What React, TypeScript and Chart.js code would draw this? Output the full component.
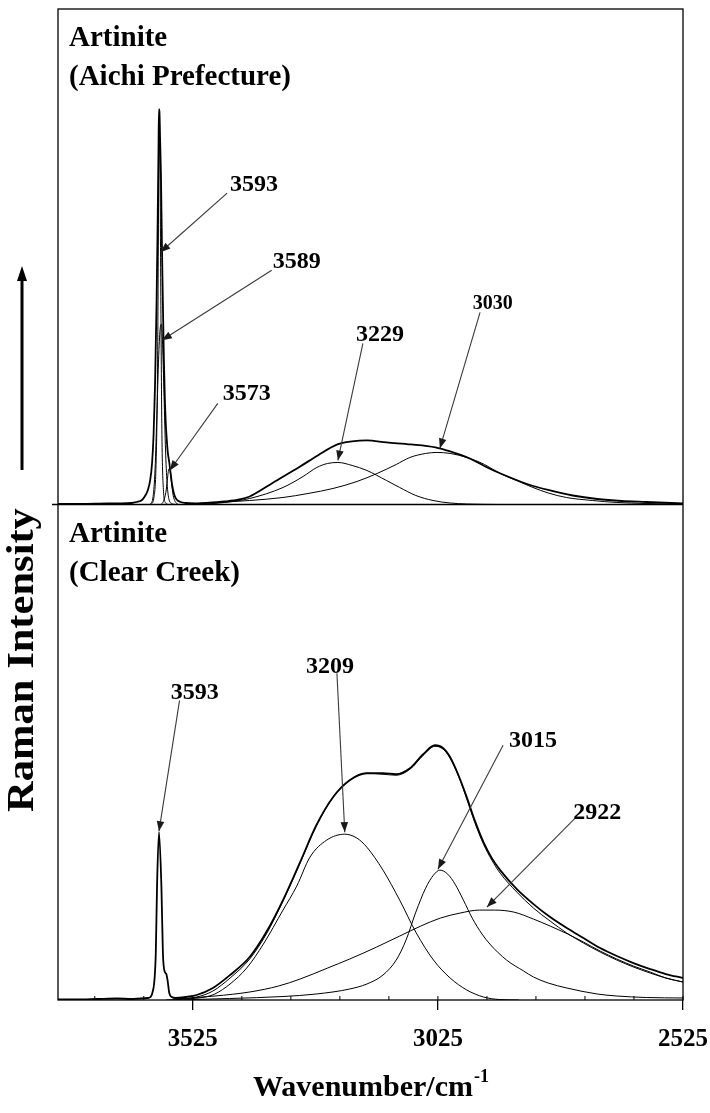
import React, { useEffect, useRef } from 'react';
import { Chart, registerables } from 'chart.js';

Chart.register(...registerables);

// ---------- axis ----------
const xMin = 2525;
const xMax = 3800;
const xTickLabels = [3525, 3025, 2525];
const xMinorStep = 100;

const panelTopMax = 495;
const panelBottomMax = 496;

// ---------- Aichi Prefecture (top panel) : [wavenumber, intensity] ----------
const aichiObserved: [number, number][] = [
  [3800, 0.5], [3750, 0.5], [3700, 1], [3670, 1], [3650, 1.5], [3640, 2.5], [3630, 4], [3623, 8],
  [3617, 14], [3612, 24], [3608, 42], [3605, 70], [3602, 120], [3599, 200], [3597, 270], [3595, 355],
  [3594, 395], [3593, 392], [3592, 370], [3590, 330], [3588, 260], [3586, 200], [3584, 145], [3582, 105],
  [3580, 80], [3578, 64], [3576, 52], [3573, 42], [3570, 30], [3567, 19], [3563, 10], [3558, 5],
  [3550, 2.5], [3540, 1.5], [3520, 1], [3500, 1.5], [3460, 3], [3430, 5], [3409, 8], [3367, 20],
  [3330, 31], [3306, 38], [3270, 49], [3230, 60], [3200, 63], [3170, 64], [3130, 62], [3080, 60],
  [3030, 57], [3000, 53], [2960, 46], [2920, 36], [2880, 27.5], [2840, 20], [2800, 14.5], [2750, 9],
  [2700, 5.5], [2650, 3.5], [2600, 2.5], [2525, 1],
];
const aichiBand3593: [number, number][] = [
  [3610, 0], [3604, 8], [3600, 40], [3597, 130], [3595, 290], [3594, 370], [3593, 385], [3592, 340],
  [3590, 190], [3588, 70], [3585, 15], [3581, 2], [3575, 0],
];
const aichiBand3589: [number, number][] = [
  [3612, 0], [3606, 8], [3602, 35], [3598, 95], [3594, 155], [3591, 178], [3589, 180], [3587, 165],
  [3584, 115], [3581, 60], [3578, 25], [3574, 6], [3568, 1], [3560, 0],
];
const aichiBand3573: [number, number][] = [
  [3590, 0], [3585, 3], [3580, 12], [3577, 24], [3575, 33], [3573, 36], [3571, 33], [3568, 20],
  [3565, 9], [3561, 3], [3555, 0],
];
const aichiBand3229: [number, number][] = [
  [3540, 0], [3500, 0.5], [3460, 2], [3409, 6], [3341, 17], [3300, 28], [3272, 37], [3250, 41],
  [3229, 42], [3200, 39], [3170, 34], [3130, 24], [3103, 17], [3070, 9], [3035, 4], [3000, 1.5],
  [2966, 0.5], [2900, 0],
];
const aichiBand3030: [number, number][] = [
  [3540, 0.5], [3500, 1.5], [3460, 2.5], [3409, 4], [3341, 7], [3290, 11], [3239, 16], [3190, 23],
  [3149, 31], [3110, 40], [3082, 47], [3050, 51], [3027, 52], [3000, 51], [2966, 47], [2930, 40],
  [2898, 31], [2860, 23], [2831, 17], [2800, 11.5], [2763, 7], [2710, 4], [2660, 2], [2600, 1],
  [2558, 0.5], [2525, 0.3],
];

// ---------- Clear Creek (bottom panel) ----------
const clearCreekObserved: [number, number][] = [
  [3800, 0.5], [3760, 0.5], [3720, 1], [3680, 1.5], [3650, 1], [3630, 1.5], [3616, 2], [3606, 10],
  [3600.5, 47], [3598, 113], [3594, 168], [3589, 113], [3586, 47], [3582, 28], [3579, 26], [3576, 18],
  [3573, 7], [3568, 3], [3560, 2], [3540, 3], [3517, 5], [3484, 12], [3449, 25], [3409, 43],
  [3375, 68], [3341, 100], [3307, 137], [3273, 175], [3239, 203], [3205, 220], [3170, 227], [3137, 227],
  [3110, 226], [3082, 232], [3055, 246], [3031, 255], [3014, 252], [3000, 243], [2983, 225], [2966, 203],
  [2950, 180], [2932, 158], [2915, 142], [2898, 130], [2864, 111], [2830, 96], [2796, 83], [2762, 72],
  [2728, 62], [2694, 52], [2660, 44], [2626, 37], [2592, 31], [2560, 26], [2525, 22],
];
const clearCreekFit: [number, number][] = [
  [3560, 1], [3517, 3], [3484, 9], [3449, 22], [3409, 41], [3375, 66], [3341, 99], [3307, 136],
  [3273, 174], [3239, 203], [3205, 220], [3170, 227], [3137, 226], [3110, 225], [3082, 231], [3055, 245],
  [3031, 254], [3014, 251], [3000, 242], [2983, 224], [2966, 201], [2950, 178], [2932, 156], [2915, 140],
  [2898, 127], [2864, 108], [2830, 92], [2796, 79], [2762, 67], [2728, 57], [2694, 48], [2660, 40],
  [2626, 33], [2592, 27], [2560, 22], [2525, 18],
];
const clearCreekBand3209: [number, number][] = [
  [3580, 0], [3540, 1], [3500, 3], [3480, 6], [3449, 16], [3415, 32], [3381, 56], [3341, 90],
  [3313, 114], [3286, 143], [3252, 160], [3215, 166], [3190, 162], [3170, 153], [3137, 130], [3103, 100],
  [3069, 67], [3034, 40], [3000, 22], [2966, 10], [2932, 3], [2900, 0.5], [2860, 0],
];
const clearCreekBand3015: [number, number][] = [
  [3560, 0], [3450, 1.5], [3341, 3.5], [3273, 6], [3205, 11], [3170, 16], [3137, 25], [3110, 40],
  [3090, 60], [3070, 88], [3050, 112], [3034, 125], [3021, 130], [3005, 126], [2990, 116], [2973, 100],
  [2955, 82], [2935, 66], [2919, 56], [2885, 40], [2850, 29], [2830, 23], [2800, 17], [2762, 12],
  [2700, 6], [2660, 4], [2600, 2.5], [2525, 2],
];
const clearCreekBand2922: [number, number][] = [
  [3560, 1], [3480, 4], [3409, 8], [3350, 14], [3306, 21], [3250, 32], [3205, 41], [3150, 53],
  [3103, 64], [3060, 74], [3020, 82], [2980, 87], [2940, 90], [2910, 90], [2870, 88], [2830, 81],
  [2796, 74], [2760, 66], [2728, 58], [2694, 49], [2660, 41], [2626, 34], [2592, 28], [2560, 22],
  [2525, 18],
];

// ---------- annotations (data coordinates: [wavenumber, intensity]) ----------
type Note = { text: string; tip: [number, number]; tail: [number, number]; at: [number, number]; small?: boolean };
const aichiNotes: Note[] = [
  { text: '3593', tip: [3591, 252], tail: [3455, 311], at: [3400, 319] },
  { text: '3589', tip: [3588, 164], tail: [3364, 234], at: [3313, 242] },
  { text: '3573', tip: [3572, 34], tail: [3474, 101], at: [3415, 111] },
  { text: '3229', tip: [3229, 44], tail: [3178, 161], at: [3143, 170] },
  { text: '3030', tip: [3021, 56], tail: [2939, 192], at: [2913, 200], small: true },
];
const clearCreekNotes: Note[] = [
  { text: '3593', tip: [3594, 169], tail: [3552, 300], at: [3521, 308] },
  { text: '3209', tip: [3215, 168], tail: [3231, 327], at: [3245, 334] },
  { text: '3015', tip: [3025, 131], tail: [2892, 255], at: [2831, 259] },
  { text: '2922', tip: [2925, 93], tail: [2745, 182], at: [2700, 187] },
];

const sampleTitles = [
  ['Artinite', '(Aichi Prefecture)'],
  ['Artinite', '(Clear Creek)'],
];
const yTitle = 'Raman Intensity';
const xTitle = 'Wavenumber/cm';
const xTitleSup = '-1';

const SERIF = '"Liberation Serif", "Times New Roman", Times, serif';

function toPoints(arr: [number, number][]) {
  return arr
    .slice()
    .sort((a, b) => b[0] - a[0])
    .map(([x, y]) => ({ x, y }));
}

function ds(arr: [number, number][], axis: string, width: number) {
  return {
    data: toPoints(arr),
    yAxisID: axis,
    borderColor: '#000',
    borderWidth: width,
    pointRadius: 0,
    fill: false,
    cubicInterpolationMode: 'monotone' as const,
  };
}

const overlayPlugin = {
  id: 'overlay',
  afterDatasetsDraw(chart: any) {
    const { ctx, chartArea: ca, scales } = chart;
    const xs = scales.x;
    const yt = scales.yTop;
    const yb = scales.yBot;
    ctx.save();

    // frame
    ctx.strokeStyle = '#000';
    ctx.lineWidth = 1.3;
    ctx.strokeRect(ca.left, ca.top, ca.right - ca.left, ca.bottom - ca.top);
    const divY = yt.getPixelForValue(0);
    ctx.beginPath();
    ctx.moveTo(ca.left - 6, divY);
    ctx.lineTo(ca.right, divY);
    ctx.stroke();

    // minor inside ticks on bottom axis
    ctx.lineWidth = 1;
    for (let v = xMin; v <= xMax; v += xMinorStep) {
      const px = xs.getPixelForValue(v);
      ctx.beginPath();
      ctx.moveTo(px, ca.bottom);
      ctx.lineTo(px, ca.bottom - 4);
      ctx.stroke();
    }

    // sample titles
    ctx.fillStyle = '#000';
    ctx.textAlign = 'left';
    ctx.textBaseline = 'alphabetic';
    ctx.font = `bold 29px ${SERIF}`;
    const titleTops = [ca.top, divY];
    sampleTitles.forEach((lines, i) => {
      ctx.fillText(lines[0], ca.left + 11, titleTops[i] + 37);
      ctx.fillText(lines[1], ca.left + 11, titleTops[i] + 76);
    });

    // annotations
    const drawNotes = (notes: Note[], ys: any) => {
      notes.forEach((n) => {
        const tx = xs.getPixelForValue(n.tip[0]);
        const ty = ys.getPixelForValue(n.tip[1]);
        const sx = xs.getPixelForValue(n.tail[0]);
        const sy = ys.getPixelForValue(n.tail[1]);
        ctx.strokeStyle = '#3a3a3a';
        ctx.fillStyle = '#1a1a1a';
        ctx.lineWidth = 1.1;
        ctx.beginPath();
        ctx.moveTo(sx, sy);
        ctx.lineTo(tx, ty);
        ctx.stroke();
        const ang = Math.atan2(ty - sy, tx - sx);
        const L = 10;
        const W = 3.8;
        ctx.beginPath();
        ctx.moveTo(tx, ty);
        ctx.lineTo(tx - L * Math.cos(ang) + W * Math.sin(ang), ty - L * Math.sin(ang) - W * Math.cos(ang));
        ctx.lineTo(tx - L * Math.cos(ang) - W * Math.sin(ang), ty - L * Math.sin(ang) + W * Math.cos(ang));
        ctx.closePath();
        ctx.fill();
        ctx.fillStyle = '#000';
        ctx.font = `bold ${n.small ? 20 : 24}px ${SERIF}`;
        ctx.textAlign = 'center';
        ctx.textBaseline = 'middle';
        ctx.fillText(n.text, xs.getPixelForValue(n.at[0]), ys.getPixelForValue(n.at[1]));
      });
    };
    drawNotes(aichiNotes, yt);
    drawNotes(clearCreekNotes, yb);

    // y title with arrow
    const yx = 22;
    ctx.strokeStyle = '#000';
    ctx.fillStyle = '#000';
    ctx.lineWidth = 3;
    ctx.beginPath();
    ctx.moveTo(yx, 470);
    ctx.lineTo(yx, 278);
    ctx.stroke();
    ctx.beginPath();
    ctx.moveTo(yx, 266);
    ctx.lineTo(yx - 5, 281);
    ctx.lineTo(yx + 5, 281);
    ctx.closePath();
    ctx.fill();
    ctx.save();
    ctx.translate(yx + 1, 660);
    ctx.rotate(-Math.PI / 2);
    ctx.scale(1.15, 1);
    ctx.font = `bold 37px ${SERIF}`;
    ctx.textAlign = 'center';
    ctx.textBaseline = 'middle';
    ctx.fillText(yTitle, 0, 0);
    ctx.restore();

    // x title with superscript
    ctx.font = `bold 30px ${SERIF}`;
    const mainW = ctx.measureText(xTitle).width;
    ctx.font = `bold 18px ${SERIF}`;
    const supW = ctx.measureText(xTitleSup).width;
    const cx = (ca.left + ca.right) / 2;
    const startX = cx - (mainW + supW) / 2;
    ctx.textAlign = 'left';
    ctx.textBaseline = 'alphabetic';
    ctx.font = `bold 30px ${SERIF}`;
    ctx.fillText(xTitle, startX, 1096);
    ctx.font = `bold 18px ${SERIF}`;
    ctx.fillText(xTitleSup, startX + mainW + 1, 1082);

    ctx.restore();
  },
};

export default function App() {
  const canvasRef = useRef<HTMLCanvasElement | null>(null);

  useEffect(() => {
    document.body.style.margin = '0';
    const canvas = canvasRef.current;
    if (!canvas) return;
    const chart = new Chart(canvas, {
      type: 'line',
      data: {
        datasets: [
          ds(aichiBand3593, 'yTop', 1),
          ds(aichiBand3589, 'yTop', 1),
          ds(aichiBand3573, 'yTop', 1),
          ds(aichiBand3229, 'yTop', 1),
          ds(aichiBand3030, 'yTop', 1),
          ds(aichiObserved, 'yTop', 1.8),
          ds(clearCreekBand3209, 'yBot', 1),
          ds(clearCreekBand3015, 'yBot', 1),
          ds(clearCreekBand2922, 'yBot', 1),
          ds(clearCreekFit, 'yBot', 1),
          ds(clearCreekObserved, 'yBot', 1.8),
        ] as any,
      },
      options: {
        responsive: false,
        animation: false,
        devicePixelRatio: 1,
        layout: { padding: { left: 58, right: 27, top: 9, bottom: 43 } },
        plugins: { legend: { display: false }, tooltip: { enabled: false } },
        scales: {
          x: {
            type: 'linear',
            min: xMin,
            max: xMax,
            reverse: true,
            position: 'bottom',
            afterBuildTicks: (s: any) => {
              s.ticks = xTickLabels.map((v) => ({ value: v }));
            },
            afterFit: (s: any) => {
              s.paddingLeft = 0;
              s.paddingRight = 0;
            },
            ticks: {
              autoSkip: false,
              maxRotation: 0,
              padding: 15,
              color: '#000',
              font: { family: SERIF, size: 25, weight: 'bold' },
              callback: (v: any) => String(v),
            },
            grid: { display: true, drawOnChartArea: false, drawTicks: true, tickLength: 10, color: '#000', lineWidth: 1.3 },
            border: { display: false },
          },
          yBot: {
            type: 'linear',
            position: 'left',
            stack: 'panels',
            stackWeight: 1,
            min: 0,
            max: panelBottomMax,
            display: false,
          },
          yTop: {
            type: 'linear',
            position: 'left',
            stack: 'panels',
            stackWeight: 1,
            min: 0,
            max: panelTopMax,
            display: false,
          },
        } as any,
      },
      plugins: [overlayPlugin],
    });
    return () => chart.destroy();
  }, []);

  return (
    <div style={{ width: 710, height: 1113 }}>
      <canvas ref={canvasRef} width={710} height={1113} />
    </div>
  );
}
